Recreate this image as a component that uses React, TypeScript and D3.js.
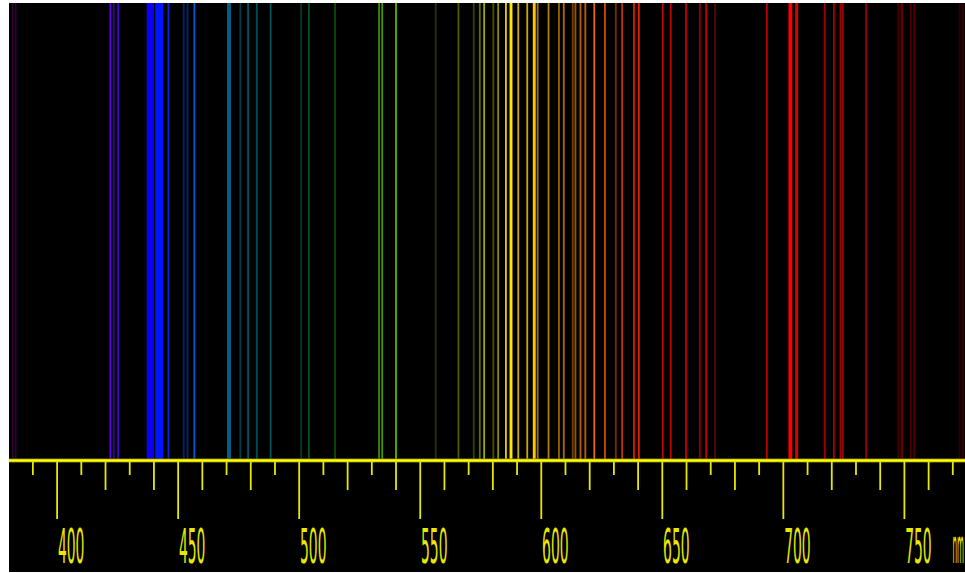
import { useEffect, useRef } from "react";
import * as d3 from "d3";

// emission lines: wavelength (nm), relative intensity, line width (nm)
const LINE_NM = [
  381.7, 382.9, 422.0, 423.4, 425.2, 438.5, 442.2, 446.0, 452.3, 453.9, 456.7,
  471.0, 475.7, 478.9, 482.5, 488.2, 500.8, 504.0, 514.8, 533.0, 534.3, 540.0,
  556.4, 565.8, 572.1, 574.6, 576.4, 580.2, 582.2, 585.4, 587.5, 590.5, 594.2,
  597.1, 598.5, 603.0, 607.3, 609.3, 613.0, 614.1, 616.2, 618.2, 621.9, 626.3,
  630.8, 633.4, 638.3, 640.3, 650.2, 653.5, 659.8, 665.5, 668.1, 671.8, 693.2,
  702.9, 705.5, 717.1, 720.9, 723.6, 724.6, 734.2, 747.5, 748.9, 752.6, 754.1,
  772.8, 774.2,
];
const LINE_INTENSITY = [
  0.5, 0.45, 0.9, 0.6, 0.8, 0.95, 1.0, 0.85, 0.45, 0.4, 0.85,
  0.55, 0.3, 0.4, 0.35, 0.33, 0.23, 0.33, 0.3, 0.55, 0.6, 0.7,
  0.2, 0.35, 0.25, 0.42, 0.65, 0.3, 0.55, 0.88, 1.0, 0.78, 0.8,
  1.0, 0.6, 0.7, 0.6, 0.68, 0.45, 0.6, 0.72, 0.75, 0.92, 0.8,
  0.5, 0.75, 0.82, 0.92, 0.78, 0.75, 0.78, 0.58, 0.75, 0.38, 0.72,
  1.0, 0.9, 0.72, 0.78, 0.75, 0.72, 0.8, 0.4, 0.6, 0.5, 0.55,
  0.45, 0.5,
];
const LINE_WIDTH_NM = [
  0.75, 0.75, 0.75, 0.75, 0.75, 3.0, 3.3, 0.75, 0.75, 0.75, 0.75,
  1.6, 0.75, 0.75, 0.75, 0.75, 0.75, 0.75, 0.75, 0.75, 0.75, 0.75,
  0.75, 0.75, 0.75, 0.75, 0.75, 0.75, 0.75, 0.75, 1.2, 0.75, 0.75,
  1.2, 0.75, 0.75, 0.75, 0.75, 0.75, 0.75, 0.75, 0.75, 0.75, 0.75,
  0.75, 0.75, 0.75, 0.75, 0.75, 0.75, 0.75, 0.75, 0.75, 0.75, 0.75,
  1.6, 1.2, 0.75, 0.75, 0.75, 0.75, 0.75, 0.75, 1.0, 0.75, 0.75,
  0.75, 0.75,
];

const MINOR_TICKS = d3.range(390, 780, 10);
const TICK_LABELS = [400, 450, 500, 550, 600, 650, 700, 750];
const UNIT = "nm";

const W = 965;
const H = 573;
const PANEL = { left: 9, top: 3, right: 965, bottom: 572 };
const AXIS_Y = 460.5;
const YELLOW = "#e8e800";

// Bruton's wavelength -> RGB, scaled by line intensity
function lineColor(nm: number, intensity: number): string {
  let r = 0, g = 0, b = 0;
  if (nm < 440) { r = (440 - nm) / 60; b = 1; }
  else if (nm < 490) { g = (nm - 440) / 50; b = 1; }
  else if (nm < 510) { g = 1; b = (510 - nm) / 20; }
  else if (nm < 580) { r = (nm - 510) / 70; g = 1; }
  else if (nm < 645) { r = 1; g = (645 - nm) / 65; }
  else { r = 1; }
  let f = 1;
  if (nm < 420) f = 0.3 + (0.7 * (nm - 380)) / 40;
  else if (nm > 700) f = 0.3 + (0.7 * (780 - nm)) / 80;
  const c = (v: number) => (v <= 0 ? 0 : Math.round(255 * Math.pow(v * f, 0.8) * intensity));
  return d3.rgb(c(r), c(g), c(b)).formatHex();
}

export default function App() {
  const svgRef = useRef<SVGSVGElement>(null);

  useEffect(() => {
    if (!svgRef.current) return;
    const svg = d3.select(svgRef.current);
    svg.selectAll("*").remove();

    const x = d3.scaleLinear().domain([400, 750]).range([57.1, 904.4]);

    svg.append("rect").attr("width", W).attr("height", H).attr("fill", "#fff");
    svg.append("rect")
      .attr("x", PANEL.left)
      .attr("y", PANEL.top)
      .attr("width", PANEL.right - PANEL.left)
      .attr("height", PANEL.bottom - PANEL.top)
      .attr("fill", "#000");

    // spectral lines
    const lines = LINE_NM.map((nm, i) => ({ nm, intensity: LINE_INTENSITY[i], w: LINE_WIDTH_NM[i] }));
    svg.append("g")
      .selectAll("rect")
      .data(lines)
      .join("rect")
      .attr("x", (d) => x(d.nm - d.w / 2))
      .attr("width", (d) => x(d.nm + d.w / 2) - x(d.nm - d.w / 2))
      .attr("y", PANEL.top)
      .attr("height", AXIS_Y - PANEL.top)
      .attr("fill", (d) => lineColor(d.nm, d.intensity));

    // axis line with glow
    svg.append("line")
      .attr("x1", PANEL.left).attr("x2", PANEL.right)
      .attr("y1", AXIS_Y).attr("y2", AXIS_Y)
      .attr("stroke", "#7a7a00").attr("stroke-width", 4);
    svg.append("line")
      .attr("x1", PANEL.left).attr("x2", PANEL.right)
      .attr("y1", AXIS_Y).attr("y2", AXIS_Y)
      .attr("stroke", "#ffff00").attr("stroke-width", 2.4);

    // ticks: long every 50, medium every 20, short otherwise
    const tickLen = (v: number) => (v % 50 === 0 ? 57 : v % 20 === 0 ? 28 : 13);
    svg.append("g")
      .selectAll("line")
      .data(MINOR_TICKS)
      .join("line")
      .attr("x1", (d) => x(d)).attr("x2", (d) => x(d))
      .attr("y1", AXIS_Y + 1.5)
      .attr("y2", (d) => AXIS_Y + 1.5 + tickLen(d))
      .attr("stroke", YELLOW)
      .attr("stroke-width", 1.8);

    const labelFont = "'Liberation Sans Narrow', 'DejaVu Sans Condensed', 'Liberation Sans', sans-serif";
    svg.append("g")
      .selectAll("text")
      .data(TICK_LABELS)
      .join("text")
      .attr("x", (d) => x(d) + 0.8)
      .attr("y", 563)
      .attr("font-family", labelFont)
      .attr("font-size", 48)
      .attr("textLength", 26.5)
      .attr("lengthAdjust", "spacingAndGlyphs")
      .attr("fill", YELLOW)
      .text((d) => d);

    // unit sits at the right edge; squeezed so it stays inside the picture
    svg.append("text")
      .attr("x", 952.5)
      .attr("y", 563)
      .attr("font-family", labelFont)
      .attr("font-size", 48)
      .attr("textLength", 11.5)
      .attr("lengthAdjust", "spacingAndGlyphs")
      .attr("fill", YELLOW)
      .text(UNIT);
  }, []);

  return (
    <svg
      ref={svgRef}
      width={W}
      height={H}
      style={{ position: "absolute", left: 0, top: 0, display: "block" }}
    />
  );
}
